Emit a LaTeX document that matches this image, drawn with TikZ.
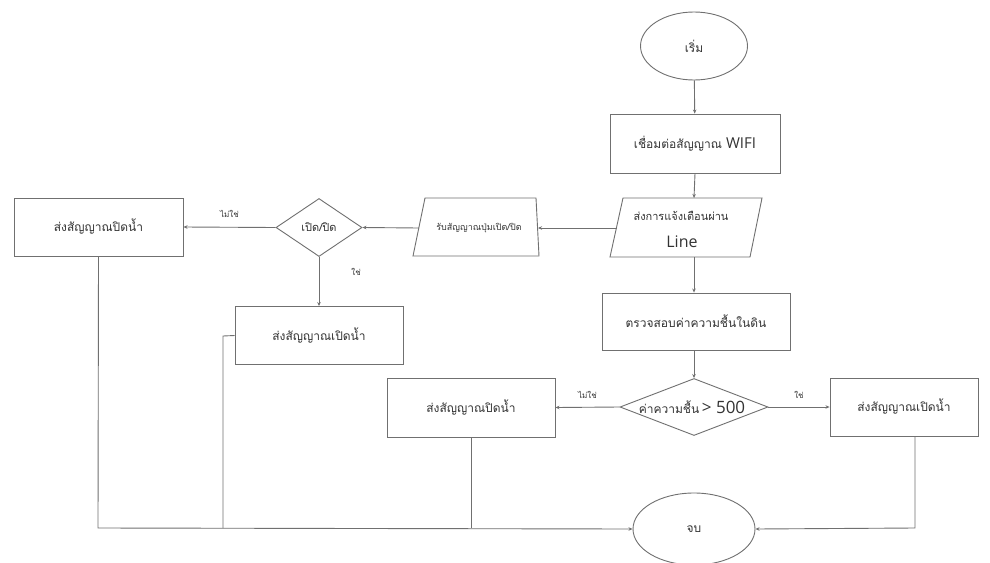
\documentclass[tikz,border=0pt]{standalone}
\usepackage{fontspec}
\setmainfont{Open Sans}
\newfontfamily\thai[Script=Thai]{Loma}
\usetikzlibrary{shapes.geometric,arrows.meta}
\definecolor{edge}{HTML}{707070}
\definecolor{txt}{HTML}{333333}
\tikzset{
  shp/.style={draw=edge, line width=0.9pt, inner sep=0pt, text=txt, font=\thai\fontsize{12}{14}\selectfont},
  rbox/.style={shp, rectangle},
  oval/.style={shp, ellipse},
  dia/.style={shp, diamond},
  conn/.style={draw=edge, line width=0.9pt},
  arr/.style={conn, -{Stealth[length=4pt,width=3.5pt]}},
  lbl/.style={text=txt, font=\thai\fontsize{8}{10}\selectfont, inner sep=0pt},
  tx/.style={text=txt, inner sep=0pt, align=center}
}
\begin{document}
\begin{tikzpicture}[x=1pt,y=-1pt]
\useasboundingbox[fill=white] (0,0) rectangle (990,562);

% main column
\node[oval, minimum width=107pt, minimum height=68pt] (start) at (694,46) {เริ่ม};
\node[rbox, minimum width=170pt, minimum height=59pt] (wifi) at (695,143.5) {เชื่อมต่อสัญญาณ {\fontspec{Open Sans}\fontsize{15}{17}\selectfont WIFI}};
% parallelogram
\draw[conn] (623,198) -- (762,198) -- (750,257) -- (610,257) -- cycle;
\coordinate (lineN) at (694,198);
\coordinate (lineS) at (694,257);
\coordinate (lineW) at (617,228);
\node[tx, font=\thai\fontsize{11}{13}\selectfont] (linetxt1) at (681,216) {ส่งการแจ้งเตือนผ่าน};
\node[tx, font=\fontsize{16}{18}\selectfont] (linetxt2) at (682,242) {Line};
\node[rbox, minimum width=188pt, minimum height=57pt] (moist) at (696,321.5) {ตรวจสอบค่าความชื้นในดิน};
\node[dia, minimum width=148pt, minimum height=57pt, aspect=2.6] (d2) at (694,407) {};
\node[tx] at (692,407) {{\thai\fontsize{12}{14}\selectfont ค่าความชื้น} {\fontsize{17}{19}\selectfont > 500}};
\node[rbox, minimum width=168pt, minimum height=59pt] (l2) at (471,407.5) {ส่งสัญญาณปิดน้ำ};
\node[rbox, minimum width=148pt, minimum height=58pt] (r2) at (904,407) {ส่งสัญญาณเปิดน้ำ};
\node[oval, minimum width=122pt, minimum height=72pt] (end) at (694,529) {จบ};

% upper left branch
\draw[conn] (425,198) -- (536,198) -- (539,256) -- (413,256) -- cycle;
\coordinate (recvE) at (538,228);
\coordinate (recvW) at (419,228);
\node[tx, font=\thai\fontsize{9}{11}\selectfont] at (479,228) {รับสัญญาณปุ่มเปิด/ปิด};
\node[dia, minimum width=86pt, minimum height=58pt, aspect=1.5] (d1) at (319,227.5) {};
\node[tx, font=\thai\fontsize{11}{13}\selectfont] at (319,227.5) {เปิด/ปิด};
\node[rbox, minimum width=169pt, minimum height=58pt] (l1) at (98.5,227) {ส่งสัญญาณปิดน้ำ};
\node[rbox, minimum width=168pt, minimum height=58pt] (m1) at (319,335.5) {ส่งสัญญาณเปิดน้ำ};

% connectors
\draw[arr] (start) -- (wifi);
\draw[arr] (wifi.south) -- (lineN);
\draw[arr] (lineS) -- (moist.north -| lineS);
\draw[arr] (moist.south -| d2.north) -- (d2.north);
\draw[arr] (d2.west) -- (l2.east) node[lbl, pos=0.5, above=8pt] {ไม่ใช่};
\draw[arr] (d2.east) -- (r2.west) node[lbl, pos=0.5, above=8pt] {ใช่};
\draw[arr] (lineW) -- (recvE);
\draw[arr] (recvW) -- (d1.east);
\draw[arr] (d1.west) -- (l1.east) node[lbl, pos=0.5, above=9pt] {ไม่ใช่};
\draw[arr] (d1.south) -- (m1.north) node[lbl, pos=0.3, right=32pt] {ใช่};

\coordinate (bot) at (98,528);
\draw[arr] (l1.south) -- (bot) -- (end.west);
\coordinate (m1c) at (223,336);
\draw[conn] (m1.west) -- (m1c) -- (m1c |- bot);
\draw[conn] (l2.south) -- (l2.south |- bot);
\coordinate (r2b) at (915,436);
\draw[arr] (r2b) -- (r2b |- bot) -- (end.east);
\end{tikzpicture}
\end{document}
